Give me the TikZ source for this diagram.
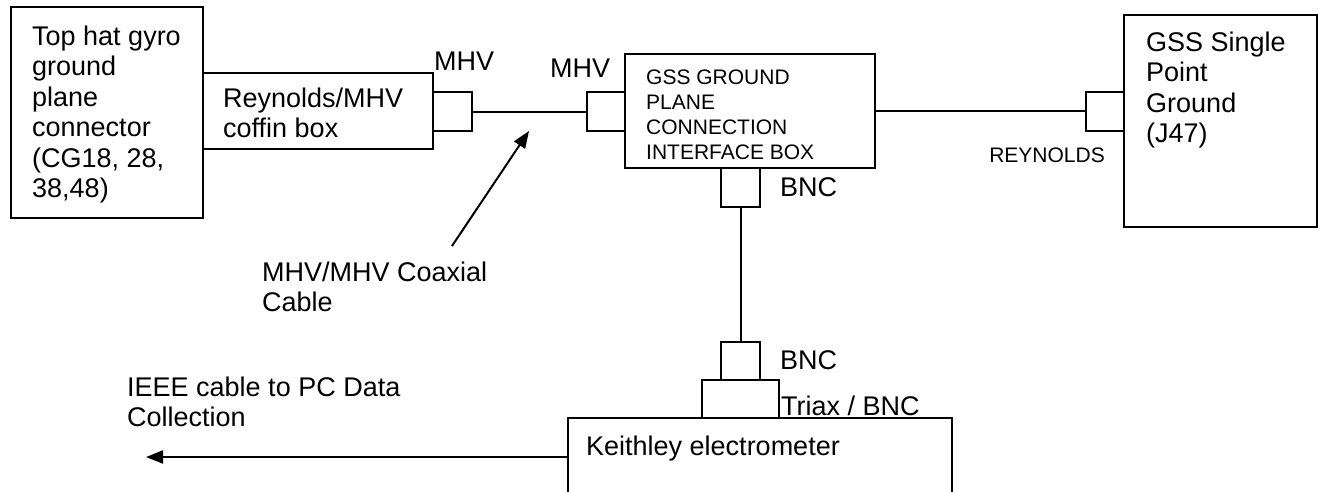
\documentclass[tikz,border=0pt]{standalone}
\usepackage{fontspec}
\setmainfont{Liberation Sans}
\usetikzlibrary{arrows.meta}
\begin{document}
\begin{tikzpicture}[x=1pt,y=-1pt,
  box/.style={draw, line width=2pt, inner sep=0pt, outer sep=0pt, anchor=north west},
  wire/.style={line width=2pt},
  tip/.style={-{Triangle[length=17pt,width=13pt]}},
  txt/.style={font=\fontsize{27}{30.5}\selectfont, inner sep=0pt, align=left, anchor=north west},
  stxt/.style={font=\fontsize{21}{25}\selectfont, inner sep=0pt, align=left, anchor=north west},
  lbl/.style={font=\fontsize{27}{30.5}\selectfont, inner sep=0pt, anchor=base west},
  slbl/.style={font=\fontsize{21}{25}\selectfont, inner sep=0pt, anchor=base east}]
\useasboundingbox (0,0) rectangle (1319,491);
\clip (0,0) rectangle (1319,491);
\fill[white] (0,0) rectangle (1319,491);
% boxes
\node[box, minimum width=192pt, minimum height=211pt] (tophat) at (11,7) {};
\node[box, minimum width=230pt, minimum height=76pt] (coffin) at (203,73) {};
\node[box, minimum width=39pt, minimum height=39pt] (c1) at (433,92) {};
\node[box, minimum width=38pt, minimum height=39pt] (c2) at (587,92) {};
\node[box, minimum width=250pt, minimum height=114pt] (gss) at (625,54) {};
\node[box, minimum width=38pt, minimum height=39pt] (c3) at (1086,92) {};
\node[box, minimum width=193pt, minimum height=212pt] (single) at (1124,15) {};
\node[box, minimum width=39pt, minimum height=39pt] (c4) at (721,168) {};
\node[box, minimum width=39pt, minimum height=38pt] (c5) at (721,342) {};
\node[box, minimum width=77pt, minimum height=38pt] (triax) at (702,380) {};
\node[box, minimum width=384pt, minimum height=78pt] (keith) at (568,418) {};
% texts
\node[txt] (tophatt) at (32,25.5) {Top hat gyro\\ground\\plane\\connector\\(CG18, 28,\\38,48)};
\node[txt] (coffint) at (223,87.5) {Reynolds/MHV\\coffin box};
\node[lbl] (mhv1) at (434,70) {MHV};
\node[lbl] (mhv2) at (550,77) {MHV};
\node[stxt] (gsst) at (646,69.7) {GSS GROUND\\PLANE\\CONNECTION\\INTERFACE BOX};
\node[lbl] (bnc1) at (780,196) {BNC};
\node[slbl] (reyn) at (1105,162) {REYNOLDS};
\node[txt] (singlet) at (1146,31.5) {GSS Single\\Point\\Ground\\(J47)};
\node[txt] (coaxt) at (262,261.5) {MHV/MHV Coaxial\\Cable};
\node[lbl] (bnc2) at (780,369) {BNC};
\node[lbl] (triaxt) at (781,415) {Triax / BNC};
\node[txt] (ieeet) at (127,376.5) {IEEE cable to PC Data\\Collection};
\node[lbl] (keitht) at (586,455) {Keithley electrometer};
% connectors
\draw[wire] (c1.east) -- (c2.west);
\draw[wire] (gss.east) -- (gss.east -| c3.west);
\draw[wire] (c4.south) -- (c5.north);
\coordinate (ieeeend) at (146,457);
\draw[wire, tip] (keith.west) -- (ieeeend);
\coordinate (coaxtail) at (452,246);
\coordinate (coaxtip) at (529,131);
\draw[wire, tip] (coaxtail) -- (coaxtip);
\end{tikzpicture}
\end{document}
